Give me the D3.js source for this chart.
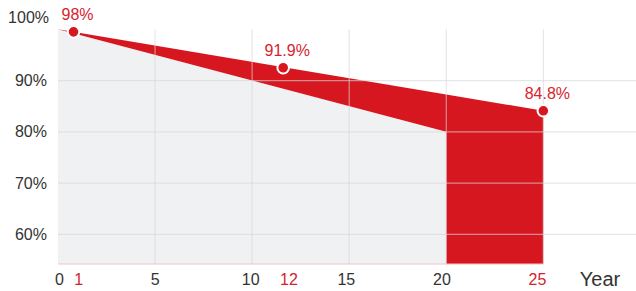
<!DOCTYPE html>
<html>
<head>
<meta charset="utf-8">
<script src="https://cdn.jsdelivr.net/npm/d3@7"></script>
<style>
  body { margin: 0; background: #fff; }
  svg { display: block; font-family: 'Liberation Sans', Arial, sans-serif; }
  .axis-label { font-size: 16px; fill: #333; }
</style>
</head>
<body>
<div id="chart"></div>
<script>
const width = 636;
const height = 291;

// Guaranteed linear floor (grey area), years -> %
const floorYears = [0, 20];
const floorValues = [100, 80];

// Red performance curve, years -> %
const curveYears = [0, 25];
const curveValues = [100, 84.1];

// Marked points on the curve (where they sit in the picture)
const markerYears = [1, 12, 25];
const markerPos = [0.8, 11.6, 25];
const markerValues = [99.5, 92.5, 84.1];
const markerLabels = ['98%', '91.9%', '84.8%'];

// Axis ticks
const xGridTicks = [5, 10, 15, 20, 25];
const xLabelTicks = [0, 1, 5, 10, 12, 15, 20, 25];
const yTicks = [60, 70, 80, 90, 100];
const yGridTicks = [60, 70, 80, 90];

const red = '#d7171f';
const grey = '#f0f1f3';

// Scales
const x = d3.scaleLinear().domain([0, 30]).range([58, 640.4]);
const xLabel = d3.scaleLinear().domain([0, 25]).range([59, 537]);
const y = d3.scaleLinear().domain([54.2, 100]).range([264, 29.3]);
const curve = d3.scaleLinear().domain(curveYears).range(curveValues);
const floor = d3.scaleLinear().domain(floorYears).range(floorValues);
const yMin = y.domain()[0];
const lastFloor = floorYears[floorYears.length - 1];
const lastYear = curveYears[curveYears.length - 1];

const svg = d3.select('#chart')
  .append('svg')
  .attr('width', width)
  .attr('height', height);

// Grey area under the floor line
svg.append('path')
  .datum(floorYears)
  .attr('fill', grey)
  .attr('d', d3.area()
    .x(d => x(d))
    .y0(y(yMin))
    .y1(d => y(floor(d))));

// Red area between floor and curve, then full down to the bottom after year 20
const redPts = [
  { t: floorYears[0], lo: floor(floorYears[0]) },
  { t: lastFloor, lo: floor(lastFloor) },
  { t: lastFloor, lo: yMin },
  { t: lastYear, lo: yMin }
];
svg.append('path')
  .datum(redPts)
  .attr('fill', red)
  .attr('d', d3.area()
    .x(d => x(d.t))
    .y0(d => y(d.lo))
    .y1(d => y(curve(d.t))));

// Grid
svg.append('g')
  .selectAll('line')
  .data(yGridTicks)
  .join('line')
  .attr('x1', x(0))
  .attr('x2', width)
  .attr('y1', d => y(d))
  .attr('y2', d => y(d))
  .attr('stroke', '#d6d7db')
  .attr('stroke-opacity', 0.6)
  .attr('stroke-width', 1.2);

svg.append('g')
  .selectAll('line')
  .data(xGridTicks)
  .join('line')
  .attr('x1', d => x(d))
  .attr('x2', d => x(d))
  .attr('y1', y(100))
  .attr('y2', y(yMin))
  .attr('stroke', '#d6d7db')
  .attr('stroke-opacity', 0.6)
  .attr('stroke-width', 1.2);

// Baseline
svg.append('line')
  .attr('x1', x(0))
  .attr('x2', x(lastYear))
  .attr('y1', y(yMin))
  .attr('y2', y(yMin))
  .attr('stroke', '#f4c3c5')
  .attr('stroke-width', 1.2);

// Y axis
const yAxis = svg.append('g')
  .attr('transform', `translate(${x(0)},0)`)
  .call(d3.axisLeft(y).tickValues(yTicks).tickFormat(d => d + '%').tickSize(0).tickPadding(11));
yAxis.select('.domain').remove();
yAxis.selectAll('text')
  .attr('class', 'axis-label')
  .attr('font-family', null)
  .attr('font-size', null);
yAxis.selectAll('.tick')
  .filter(d => d === 100)
  .select('text')
  .attr('dx', '2')
  .attr('dy', '-0.4em');

// X axis labels
const xAxis = svg.append('g')
  .attr('transform', `translate(0,${y(yMin)})`)
  .call(d3.axisBottom(xLabel).tickValues(xLabelTicks).tickSize(0).tickPadding(10));
xAxis.select('.domain').remove();
xAxis.selectAll('text')
  .attr('class', 'axis-label')
  .attr('font-family', null)
  .attr('font-size', null)
  .style('fill', d => markerYears.includes(d) ? '#cf2530' : '#333');

svg.append('text')
  .attr('x', 600)
  .attr('y', 286)
  .attr('text-anchor', 'middle')
  .style('font-size', '20px')
  .style('fill', '#333')
  .text('Year');

// Markers
const markers = markerPos.map((t, i) => ({ t, v: markerValues[i], label: markerLabels[i] }));

svg.append('g')
  .selectAll('circle')
  .data(markers)
  .join('circle')
  .attr('cx', d => x(d.t))
  .attr('cy', d => y(d.v))
  .attr('r', 5.8)
  .attr('fill', red)
  .attr('stroke', '#fff')
  .attr('stroke-width', 2);

svg.append('g')
  .selectAll('text')
  .data(markers)
  .join('text')
  .attr('x', d => x(d.t) + 4)
  .attr('y', d => y(d.v) - 12)
  .attr('text-anchor', 'middle')
  .style('font-size', '16px')
  .style('fill', '#d8232d')
  .text(d => d.label);
</script>
</body>
</html>
